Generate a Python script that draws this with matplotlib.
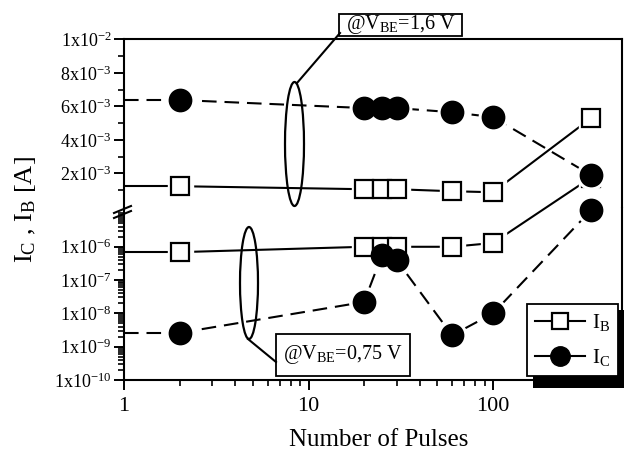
import matplotlib
matplotlib.use("Agg")
import matplotlib.pyplot as plt
from matplotlib.patches import Rectangle, Ellipse
from matplotlib.lines import Line2D
from matplotlib.ticker import FixedLocator, NullFormatter

plt.rcParams['font.family'] = ['Liberation Serif', 'DejaVu Serif']
plt.rcParams['mathtext.fontset'] = 'custom'
plt.rcParams['mathtext.rm'] = 'Liberation Serif'
plt.rcParams['mathtext.it'] = 'Liberation Serif:italic'
plt.rcParams['mathtext.bf'] = 'Liberation Serif:bold'
plt.rcParams['mathtext.default'] = 'rm'

# ---- data ----
pulses = [2, 20, 25, 30, 60, 100, 340]
ib_high = [1.24e-3, 1.06e-3, 1.06e-3, 1.06e-3, 0.94e-3, 0.88e-3, 5.3e-3]   # @VBE=1.6 V
ic_high = [6.38e-3, 5.9e-3, 5.9e-3, 5.9e-3, 5.65e-3, 5.36e-3, 1.9e-3]
ib_low = [6.9e-7, 1.0e-6, 1.0e-6, 1.0e-6, 1.0e-6, 1.3e-6, 1.2e-4]          # @VBE=0.75 V
ic_low = [2.6e-9, 2.2e-8, 5.6e-7, 4.0e-7, 2.2e-9, 1.0e-8, 1.26e-5]

top_ticks = [2e-3, 4e-3, 6e-3, 8e-3, 1e-2]
top_labels = ["2x10$^{-3}$", "4x10$^{-3}$", "6x10$^{-3}$", "8x10$^{-3}$", "1x10$^{-2}$"]
bot_ticks = [1e-10, 1e-9, 1e-8, 1e-7, 1e-6]
bot_labels = ["1x10$^{-10}$", "1x10$^{-9}$", "1x10$^{-8}$", "1x10$^{-7}$", "1x10$^{-6}$"]
x_ticks = [1, 10, 100]
x_labels = ["1", "10", "100"]

W, H = 624, 459
def fx(x): return x / W
def fy(y): return 1 - y / H

fig = plt.figure(figsize=(W / 100, H / 100), dpi=100)
left, right = 124, 622
ax_bot = fig.add_axes([fx(left), fy(380), (right - left) / W, (380 - 208) / H])
ax_top = fig.add_axes([fx(left), fy(207), (right - left) / W, (207 - 39.3) / H])
ax_top.set_zorder(1)
ax_top.patch.set_visible(False)

XMIN, XMAX = 1, 500
LW = 1.5
SQ_MS, CI_MS = 13, 15.5

def draw_series(ax, x, y, marker, dashed, clip):
    ls_kw = dict(color='black', lw=LW, clip_on=clip, zorder=2)
    if dashed:
        ls_kw['dashes'] = (7, 3.8)
    ax.plot(x, y, **ls_kw)
    ax.plot([XMIN, x[0]], [y[0], y[0]], **ls_kw)
    ms = SQ_MS if marker == 's' else CI_MS
    ax.plot(x, y, ls='none', marker=marker, ms=ms + 5, mfc='white', mec='white',
            clip_on=clip, zorder=3)
    face = 'white' if marker == 's' else 'black'
    ax.plot(x, y, ls='none', marker=marker, ms=ms, mfc=face, mec='black', mew=1.6,
            clip_on=clip, zorder=4)

for ax in (ax_top, ax_bot):
    ax.set_xscale('log')
    ax.set_xlim(XMIN, XMAX)
    for s in ax.spines.values():
        s.set_linewidth(1.5)
    ax.tick_params(which='major', direction='out', length=7, width=1.4, labelsize=13, pad=2)
    ax.tick_params(which='minor', direction='out', length=4, width=1.2)

# top linear panel
ax_top.set_ylim(0, 1e-2)
ax_top.set_yticks(top_ticks, top_labels)
ax_top.yaxis.set_minor_locator(FixedLocator([1e-3, 3e-3, 5e-3, 7e-3, 9e-3]))
ax_top.spines['bottom'].set_visible(False)
ax_top.tick_params(axis='x', which='both', bottom=False, labelbottom=False)
draw_series(ax_top, pulses, ib_high, 's', False, True)
draw_series(ax_top, pulses, ic_high, 'o', True, True)

# bottom log panel
ax_bot.set_yscale('log')
ax_bot.set_ylim(1e-10, 1.46e-5)
ax_bot.set_yticks(bot_ticks, bot_labels)
minors = [m * 10.0 ** e for e in range(-10, -4) for m in range(2, 10)] + [1e-5]
ax_bot.yaxis.set_minor_locator(FixedLocator(minors))
ax_bot.yaxis.set_minor_formatter(NullFormatter())
ax_bot.spines['top'].set_visible(False)
ax_bot.set_xticks(x_ticks, x_labels)
ax_bot.xaxis.set_minor_formatter(NullFormatter())
ax_bot.tick_params(axis='x', which='major', labelsize=16, pad=5)
draw_series(ax_bot, pulses, ib_low, 's', False, False)
draw_series(ax_bot, pulses, ic_low, 'o', True, False)

# legend with black drop shadow
h_ib = Line2D([], [], color='black', lw=LW, marker='s', ms=12, mfc='white', mec='black', mew=1.6)
h_ic = Line2D([], [], color='black', lw=LW, marker='o', ms=14, mfc='black', mec='black')
leg = ax_bot.legend([h_ib, h_ic], ["I$_\\mathrm{B}$", "I$_\\mathrm{C}$"], loc='upper left',
                    bbox_to_anchor=(fx(527), fy(304)), bbox_transform=fig.transFigure,
                    fancybox=False, framealpha=1, edgecolor='black', fontsize=15,
                    handlelength=2.4, handletextpad=0.3, borderpad=0.4, labelspacing=0.65,
                    borderaxespad=0)
leg.get_frame().set_linewidth(1.3)
ax_bot.add_patch(Rectangle((fx(533), fy(388)), (624 - 533) / W, (388 - 310) / H,
                           transform=fig.transFigure, facecolor='black', edgecolor='none',
                           clip_on=False, zorder=4.5))

# annotations: ellipses, connectors, boxes
fig.add_artist(Ellipse((fx(294.5), fy(144)), 19 / W, 124 / H, transform=fig.transFigure,
                       fill=False, edgecolor='black', lw=1.6))
fig.add_artist(Ellipse((fx(249), fy(283)), 18 / W, 112 / H, transform=fig.transFigure,
                       fill=False, edgecolor='black', lw=1.6))
fig.add_artist(Line2D([fx(297), fx(340)], [fy(83), fy(33)], transform=fig.transFigure,
                      color='black', lw=1.5))
fig.add_artist(Line2D([fx(248), fx(276)], [fy(339), fy(362)], transform=fig.transFigure,
                      color='black', lw=1.5))
fig.add_artist(Rectangle((fx(339), fy(36)), 123 / W, 22 / H, transform=fig.transFigure,
                         facecolor='white', edgecolor='black', lw=1.3))
fig.add_artist(Rectangle((fx(276), fy(376)), 134 / W, 42 / H, transform=fig.transFigure,
                         facecolor='white', edgecolor='black', lw=1.3))
fig.text(fx(400.5), fy(25), "@V$_\\mathrm{BE}$=1,6 V", ha='center', va='center', fontsize=14.5)
fig.text(fx(343), fy(355), "@V$_\\mathrm{BE}$=0,75 V", ha='center', va='center', fontsize=14.5)

# axis break marks
for dy in (0, 5):
    fig.add_artist(Line2D([fx(114), fx(131)], [fy(213 + dy), fy(206 + dy)],
                          transform=fig.transFigure, color='black', lw=1.5))

fig.text(fx(25), fy(210), "I$_\\mathrm{C}$ , I$_\\mathrm{B}$ [A]", rotation=90,
         ha='center', va='center', fontsize=19)
fig.text(fx(379), fy(440), "Number of Pulses", ha='center', va='center', fontsize=18)

fig.savefig("out.png", dpi=100)
